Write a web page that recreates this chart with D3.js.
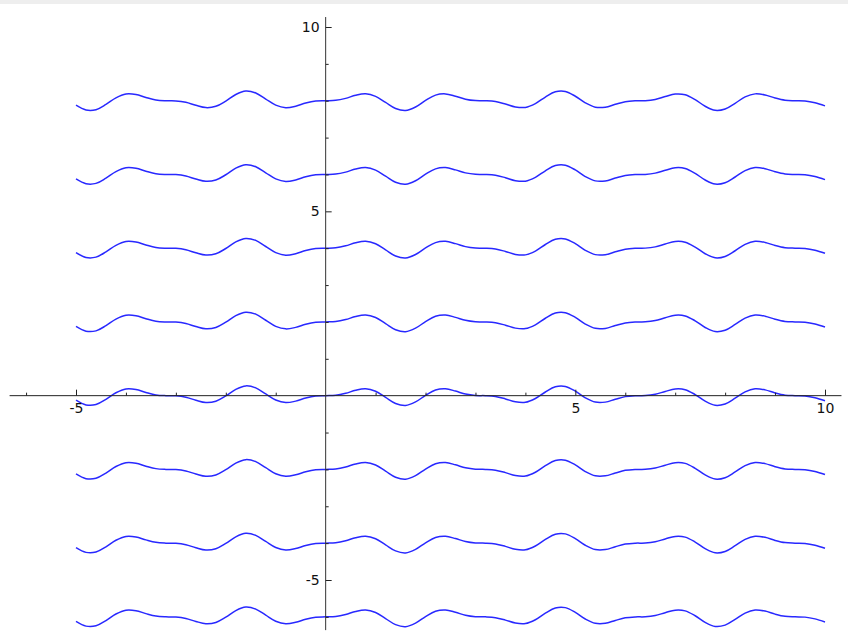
<!DOCTYPE html>
<html>
<head>
<meta charset="utf-8">
<script src="https://cdn.jsdelivr.net/npm/d3@7"></script>
<style>
    html, body { margin: 0; padding: 0; background: #fff; }
    #plot { width: 848px; height: 637px; }
    .tick-label { font-family: "DejaVu Sans", sans-serif; font-size: 14px; fill: #111; }
</style>
</head>
<body>
<div id="plot"></div>
<script>
// sample points of the wave
const xs = [-5.0, -4.8, -4.6, -4.4, -4.2, -4.0, -3.8, -3.6, -3.4, -3.2,
            -3.0, -2.8, -2.6, -2.4, -2.2, -2.0, -1.8, -1.6, -1.4, -1.2,
            -1.0, -0.8, -0.6, -0.4, -0.2, 0.0, 0.2, 0.4, 0.6, 0.8,
            1.0, 1.2, 1.4, 1.6, 1.8, 2.0, 2.2, 2.4, 2.6, 2.8,
            3.0, 3.2, 3.4, 3.6, 3.8, 4.0, 4.2, 4.4, 4.6, 4.8,
            5.0, 5.2, 5.4, 5.6, 5.8, 6.0, 6.2, 6.4, 6.6, 6.8,
            7.0, 7.2, 7.4, 7.6, 7.8, 8.0, 8.2, 8.4, 8.6, 8.8,
            9.0, 9.2, 9.4, 9.6, 9.8, 10.0]
const wave = [-0.122, -0.251, -0.242, -0.100, 0.078, 0.181, 0.168, 0.088, 0.021, 0.000,
              -0.004, -0.043, -0.124, -0.186, -0.152, -0.008, 0.170, 0.265, 0.211, 0.046,
              -0.119, -0.188, -0.148, -0.064, -0.010, 0.000, 0.010, 0.064, 0.148, 0.188,
              0.119, -0.046, -0.211, -0.265, -0.170, 0.008, 0.152, 0.186, 0.124, 0.043,
              0.004, 0.000, -0.021, -0.088, -0.168, -0.181, -0.078, 0.100, 0.242, 0.251,
              0.122, -0.058, -0.174, -0.175, -0.098, -0.026, -0.001, 0.002, 0.036, 0.114,
              0.182, 0.163, 0.030, -0.150, -0.261, -0.225, -0.069, 0.103, 0.186, 0.157,
              0.074, 0.014, 0.000, -0.007, -0.055, -0.139]
// vertical shift of each copy of the wave
const offsets = [8, 6, 4, 2, 0, -2, -4, -6]

const xMajor = [-5, 5, 10]
const xMinor = [-6, -4, -3, -2, -1, 1, 2, 3, 4, 6, 7, 8, 9]
const yMajor = [10, 5, -5]
const yMinor = [-6, -4, -3, -2, -1, 1, 2, 3, 4, 6, 7, 8, 9]

const xLimits = [-6.33, 10.33]
const yLimits = [-6.36, 10.27]

var width = 848, height = 637
var svg, xScale, yScale

drawPlot()

function drawPlot()
{
    xScale = d3.scaleLinear()
        .domain([-5, 10])
        .range([76, 825])
    yScale = d3.scaleLinear()
        .domain([-5, 10])
        .range([580, 27])

    svg = d3.select("#plot")
        .append("svg")
        .attr("width", width)
        .attr("height", height)
        .style("display", "block")

    // thin grey strip along the top edge
    svg.append("rect")
        .attr("x", 0).attr("y", 0)
        .attr("width", width).attr("height", 4)
        .attr("fill", "#eeeeee")

    var line = d3.line()
        .x(function(d) { return xScale(d[0]) })
        .y(function(d) { return yScale(d[1]) })
        .curve(d3.curveCatmullRom.alpha(0.5))

    var curves = svg.append("g").attr("class", "curves")
    curves.selectAll("path")
        .data(offsets)
        .enter()
        .append("path")
        .attr("d", function(k) { return line(xs.map(function(x, i) { return [x, wave[i] + k] })) })
        .attr("fill", "none")
        .attr("stroke", "#2828ff")
        .attr("stroke-width", 1.5)

    var y0 = yScale(0), x0 = xScale(0)

    // plain hyphen for negatives, like the original
    var fmt = function(d) { return String(d) }

    // x axis
    var xAxis = d3.axisBottom(xScale)
        .tickValues(xMajor)
        .tickSize(-6)
        .tickPadding(7)
        .tickFormat(fmt)
    var xMinorAxis = d3.axisBottom(xScale)
        .tickValues(xMinor)
        .tickSize(-3)
        .tickFormat("")

    var gx = svg.append("g")
        .attr("transform", "translate(0," + y0 + ")")
        .call(xAxis)
    svg.append("g")
        .attr("transform", "translate(0," + y0 + ")")
        .call(xMinorAxis)

    // y axis
    var yAxis = d3.axisLeft(yScale)
        .tickValues(yMajor)
        .tickSize(-6)
        .tickPadding(6)
        .tickFormat(fmt)
    var yMinorAxis = d3.axisLeft(yScale)
        .tickValues(yMinor)
        .tickSize(-3)
        .tickFormat("")

    var gy = svg.append("g")
        .attr("transform", "translate(" + x0 + ",0)")
        .call(yAxis)
    svg.append("g")
        .attr("transform", "translate(" + x0 + ",0)")
        .call(yMinorAxis)

    svg.selectAll(".domain").remove()
    svg.selectAll(".tick line")
        .attr("stroke", "#222")
        .attr("stroke-width", 1)

    gx.selectAll(".tick text").attr("class", "tick-label").attr("fill", null)
    gy.selectAll(".tick text").attr("class", "tick-label").attr("fill", null)
    svg.selectAll("g").attr("font-family", null).attr("font-size", null)

    // axis lines through the origin
    svg.append("line")
        .attr("x1", xScale(xLimits[0])).attr("x2", xScale(xLimits[1]))
        .attr("y1", y0).attr("y2", y0)
        .attr("stroke", "#222")
        .attr("stroke-width", 1)
    svg.append("line")
        .attr("x1", x0).attr("x2", x0)
        .attr("y1", yScale(yLimits[1])).attr("y2", yScale(yLimits[0]))
        .attr("stroke", "#333")
        .attr("stroke-width", 1)
}
</script>
</body>
</html>
